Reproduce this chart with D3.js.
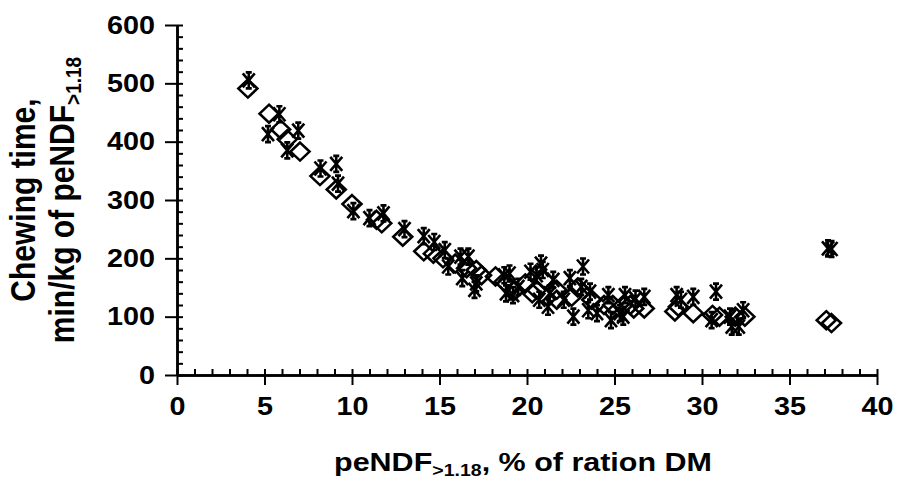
<!DOCTYPE html>
<html>
<head>
<meta charset="utf-8">
<script src="https://cdn.jsdelivr.net/npm/d3@7"></script>
<style>
  html, body { margin: 0; padding: 0; background: #fff; }
  svg text { font-family: "Liberation Sans", Arial, sans-serif; font-weight: bold; fill: #000; }
</style>
</head>
<body>
<svg id="chart" width="897" height="481"></svg>
<script>
// 菱形（白抜き）系列
const diamondX = [4.05, 5.26, 5.92, 6.3, 7.03, 8.17, 9.1, 10.0, 11.4, 11.7, 12.9, 14.1, 14.65, 15.2, 15.9,
  16.55, 17.1, 17.4, 18.2, 18.7, 19.3, 19.9, 20.3, 20.55, 21.0, 21.7, 21.7, 22.55, 22.9, 23.7, 24.4, 24.9,
  25.5, 25.9, 26.1, 26.7, 28.45, 28.65, 29.5, 30.6, 31.0, 31.9, 32.45, 37.1, 37.4];
const diamondY = [491, 448, 421, 404, 383, 341, 318, 293, 266, 260, 237, 212, 208, 200, 191,
  183, 180, 171, 169, 160, 145, 157, 140, 146, 163, 146, 129, 134, 150, 129, 120, 120,
  120, 120, 114, 114, 109, 117, 106, 103, 100, 100, 100, 94, 89];

// アスタリスク系列
const starX = [4.1, 5.2, 5.85, 6.3, 6.93, 8.2, 9.1, 9.2, 10.08, 11.0, 11.8, 13.0, 14.1, 14.7, 15.3, 15.5,
  16.2, 16.65, 16.3, 17.0, 17.1, 18.7, 19.0, 18.8, 19.2, 19.5, 20.2, 20.55, 20.8, 20.9, 20.7, 21.2, 21.5,
  21.3, 22.1, 22.45, 22.65, 23.2, 23.1, 23.6, 23.5, 24.0, 24.65, 24.8, 25.3, 25.6, 25.5, 26.2, 26.7,
  28.55, 28.8, 29.5, 30.8, 30.55, 31.6, 31.7, 32.1, 32.35, 37.2, 37.4];
const starY = [505, 413, 447, 385, 419, 354, 362, 328, 281, 269, 277, 250, 238, 228, 214, 186,
  203, 203, 166, 146, 157, 171, 174, 140, 137, 151, 177, 171, 191, 180, 129, 117, 163,
  140, 129, 166, 100, 186, 151, 143, 111, 106, 137, 94, 106, 137, 100, 131, 134,
  137, 129, 134, 143, 94, 100, 83, 83, 111, 217, 216];

// 目盛り
const xTicks = [0, 5, 10, 15, 20, 25, 30, 35, 40];
const yTicks = [0, 100, 200, 300, 400, 500, 600];
const xMinorTicks = d3.range(0, 41, 1);
const yMinorTicks = d3.range(0, 601, 20);

const xTitle = { main: 'peNDF', sub: '>1.18', rest: ', % of ration DM' };
const yTitle1 = 'Chewing time,';
const yTitle2 = { main: 'min/kg of peNDF', sub: '>1.18' };

const svg = d3.select('#chart');
const plot = { left: 177, right: 877, top: 25, bottom: 375 };
const sx = 1.15; // 元画像の横伸び

const x = d3.scaleLinear().domain([0, 40]).range([plot.left, plot.right]);
const y = d3.scaleLinear().domain([0, 600]).range([plot.bottom, plot.top]);

// Y軸（主目盛りは左へ、副目盛りは右へ）
const yAxisMain = svg.append('g')
    .attr('transform', `translate(${plot.left},0)`)
    .call(d3.axisLeft(y).tickValues(yTicks).tickSize(12).tickSizeOuter(0));
yAxisMain.selectAll('text')
    .attr('x', -22 / sx)
    .attr('transform', `scale(${sx},1)`)
    .style('font-size', '25px');

svg.append('g')
    .attr('transform', `translate(${plot.left},0)`)
    .call(d3.axisRight(y).tickValues(yMinorTicks).tickSize(6).tickSizeOuter(0).tickFormat(''));

// X軸（主目盛りは下へ、副目盛りは上へ）
const xAxisMain = svg.append('g')
    .attr('transform', `translate(0,${plot.bottom})`)
    .call(d3.axisBottom(x).tickValues(xTicks).tickSize(10).tickSizeOuter(0));
xAxisMain.selectAll('text')
    .attr('y', 40)
    .attr('dy', 0)
    .attr('transform', `scale(${sx},1)`)
    .style('font-size', '25px');

svg.append('g')
    .attr('transform', `translate(0,${plot.bottom})`)
    .call(d3.axisTop(x).tickValues(xMinorTicks).tickSize(6).tickSizeOuter(0).tickFormat(''));

svg.selectAll('.domain').attr('stroke', '#000').attr('stroke-width', 2.5);
svg.selectAll('.tick line').attr('stroke', '#000').attr('stroke-width', 2);

// 軸タイトル
const xt = svg.append('text')
    .attr('transform', `translate(${(plot.left + plot.right) / 2 - 4},471) scale(1.22,1)`)
    .attr('text-anchor', 'middle')
    .style('font-size', '25px');
xt.append('tspan').text(xTitle.main);
xt.append('tspan').attr('dy', 5).style('font-size', '16px').text(xTitle.sub);
xt.append('tspan').attr('dy', -5).text(xTitle.rest);

const yCenter = (plot.top + plot.bottom) / 2;
svg.append('text')
    .attr('transform', `translate(35,${yCenter}) scale(${sx},1) rotate(-90)`)
    .attr('text-anchor', 'middle')
    .style('font-size', '30px')
    .text(yTitle1);

const yt2 = svg.append('text')
    .attr('transform', `translate(74,${yCenter}) scale(${sx},1) rotate(-90)`)
    .attr('text-anchor', 'middle')
    .style('font-size', '30px');
yt2.append('tspan').text(yTitle2.main);
yt2.append('tspan').attr('dy', 6).style('font-size', '19px').text(yTitle2.sub);

// マーカー
const diamonds = diamondX.map((v, i) => ({ x: v, y: diamondY[i] }));
const stars = starX.map((v, i) => ({ x: v, y: starY[i] }));

const starPath = 'M0,-8V8M-6,-7L6,7M-6,7L6,-7M-3,-8H3M-3,8H3';

svg.append('g').selectAll('path')
    .data(stars)
    .enter().append('path')
    .attr('transform', d => `translate(${x(d.x)},${y(d.y)})`)
    .attr('d', starPath)
    .attr('fill', 'none')
    .attr('stroke', '#000')
    .attr('stroke-width', 2.6);

svg.append('g').selectAll('path')
    .data(diamonds)
    .enter().append('path')
    .attr('transform', d => `translate(${x(d.x)},${y(d.y)})`)
    .attr('d', 'M0,-9L9.5,0L0,9L-9.5,0Z')
    .attr('fill', 'none')
    .attr('stroke', '#000')
    .attr('stroke-width', 2.6);
</script>
</body>
</html>
